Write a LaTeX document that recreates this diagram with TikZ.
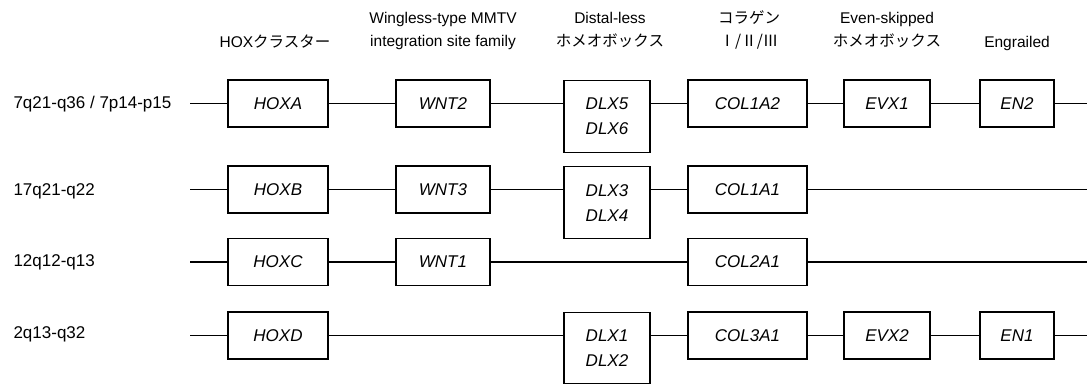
\documentclass[tikz,border=0pt]{standalone}
\usepackage{fontspec}
\setmainfont{Liberation Sans}
\newfontfamily\jp{Noto Sans CJK JP}
\begin{document}
\begin{tikzpicture}[x=1pt,y=-1pt,
 box/.style={draw,line width=1.2pt,inner sep=0pt,minimum height=47pt,font=\fontsize{17}{25}\selectfont\itshape,align=center},
 conn/.style={line width=1.2pt},
 rowlab/.style={anchor=base west,font=\fontsize{17}{20}\selectfont},
 head/.style={anchor=base,align=center,font=\fontsize{15.5}{23}\selectfont}]
\useasboundingbox (0,0) rectangle (1089,384);
% headers (anchor base = baseline of last line)
\node[head] (h1) at (275,47) {HOX{\jp クラスター}};
\node[head] (h2) at (443,46) {Wingless-type MMTV\\integration site family};
\node[head] (h3) at (610,46) {Distal-less\\{\jp ホメオボックス}};
\node[head] (h4) at (749,46) {{\jp コラゲン}\\{\jp Ⅰ/Ⅱ/Ⅲ}};
\node[head] (h5) at (887,46) {Even-skipped\\{\jp ホメオボックス}};
\node[head] (h6) at (1017,47) {Engrailed};
% row labels
\node[rowlab] (l1) at (10,108) {7q21-q36 / 7p14-p15};
\node[rowlab] (l2) at (10,195) {17q21-q22};
\node[rowlab] (l3) at (10,266) {12q12-q13};
\node[rowlab] (l4) at (10,338) {2q13-q32};
% row 1
\coordinate (s1) at (190,103.5);
\coordinate (e1) at (1087,103.5);
\node[box,minimum width=100pt] (hoxa) at (278,103.5) {HOXA};
\node[box,minimum width=94pt] (wnt2) at (443,103.5) {WNT2};
\node[box,minimum width=86pt,minimum height=72pt,anchor=north] (dlx56) at (607,80) {DLX5\\DLX6};
\node[box,minimum width=119pt] (col1a2) at (747.5,103.5) {COL1A2};
\node[box,minimum width=86pt] (evx1) at (887,103.5) {EVX1};
\node[box,minimum width=74pt] (en2) at (1017,103.5) {EN2};
\draw[conn] (s1) -- (hoxa.west);
\draw[conn] (hoxa.east) -- (wnt2.west);
\draw[conn] (wnt2.east) -- (wnt2.east -| dlx56.west);
\draw[conn] (col1a2.west -| dlx56.east) -- (col1a2.west);
\draw[conn] (col1a2.east) -- (evx1.west);
\draw[conn] (evx1.east) -- (en2.west);
\draw[conn] (en2.east) -- (e1);
% row 2
\coordinate (s2) at (190,189.5);
\coordinate (e2) at (1087,189.5);
\node[box,minimum width=100pt] (hoxb) at (278,189.5) {HOXB};
\node[box,minimum width=94pt] (wnt3) at (443,189.5) {WNT3};
\node[box,minimum width=86pt,minimum height=72pt,anchor=north] (dlx34) at (607,166) {DLX3\\DLX4};
\node[box,minimum width=119pt] (col1a1) at (747.5,189.5) {COL1A1};
\draw[conn] (s2) -- (hoxb.west);
\draw[conn] (hoxb.east) -- (wnt3.west);
\draw[conn] (wnt3.east) -- (wnt3.east -| dlx34.west);
\draw[conn] (col1a1.west -| dlx34.east) -- (col1a1.west);
\draw[conn] (col1a1.east) -- (e2);
% row 3
\coordinate (s3) at (190,262);
\coordinate (e3) at (1087,262);
\node[box,minimum width=100pt] (hoxc) at (278,262) {HOXC};
\node[box,minimum width=94pt] (wnt1) at (443,262) {WNT1};
\node[box,minimum width=119pt] (col2a1) at (747.5,262) {COL2A1};
\draw[conn] (s3) -- (hoxc.west);
\draw[conn] (hoxc.east) -- (wnt1.west);
\draw[conn] (wnt1.east) -- (col2a1.west);
\draw[conn] (col2a1.east) -- (e3);
% row 4
\coordinate (s4) at (190,335.5);
\coordinate (e4) at (1087,335.5);
\node[box,minimum width=100pt] (hoxd) at (278,335.5) {HOXD};
\node[box,minimum width=86pt,minimum height=71pt,anchor=north] (dlx12) at (607,312) {DLX1\\DLX2};
\node[box,minimum width=119pt] (col3a1) at (747.5,335.5) {COL3A1};
\node[box,minimum width=86pt] (evx2) at (887,335.5) {EVX2};
\node[box,minimum width=74pt] (en1) at (1017,335.5) {EN1};
\draw[conn] (s4) -- (hoxd.west);
\draw[conn] (hoxd.east) -- (hoxd.east -| dlx12.west);
\draw[conn] (col3a1.west -| dlx12.east) -- (col3a1.west);
\draw[conn] (col3a1.east) -- (evx2.west);
\draw[conn] (evx2.east) -- (en1.west);
\draw[conn] (en1.east) -- (e4);
\end{tikzpicture}
\end{document}
